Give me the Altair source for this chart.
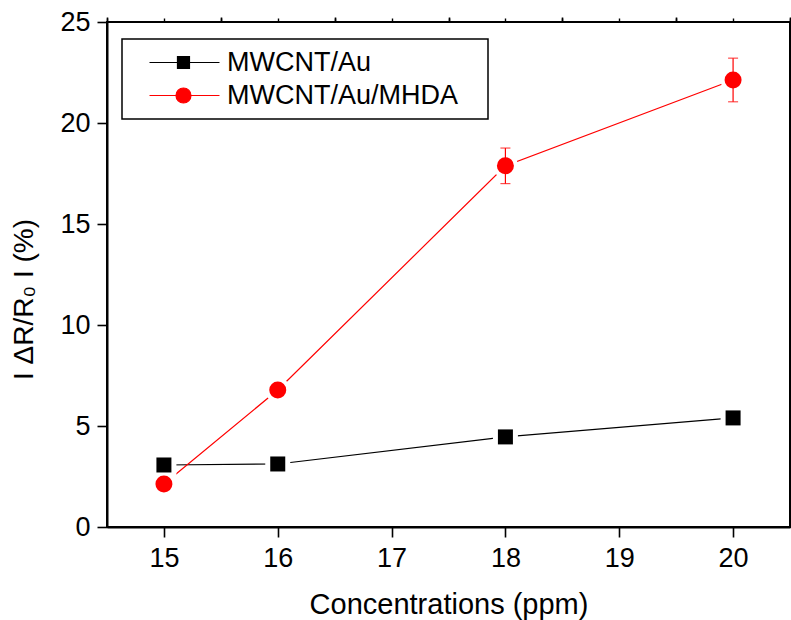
import altair as alt
import pandas as pd

# ---- data ----
conc = [15, 16, 18, 20]
au = [3.07, 3.12, 4.46, 5.40]
mhda = [2.13, 6.78, 17.88, 22.13]
mhda_err = [0.0, 0.0, 0.88, 1.08]
series = ["MWCNT/Au", "MWCNT/Au/MHDA"]
colors = ["#000000", "#FF0000"]

x_major = [15, 16, 17, 18, 19, 20]
x_minor = [14.5, 15.5, 16.5, 17.5, 18.5, 19.5, 20.5]
x_top = [14.5, 15, 15.5, 16, 16.5, 17, 17.5, 18, 18.5, 19, 19.5, 20, 20.5]
y_major = [0, 5, 10, 15, 20, 25]
y_minor = [2.5, 7.5, 12.5, 17.5, 22.5]

rows = []
for c, v in zip(conc, au):
    rows.append({"conc": c, "val": v, "err": 0.0, "series": series[0]})
for c, v, e in zip(conc, mhda, mhda_err):
    rows.append({"conc": c, "val": v, "err": e, "series": series[1]})
df = pd.DataFrame(rows)
df["lo"] = df["val"] - df["err"]
df["hi"] = df["val"] + df["err"]

FONT = "Liberation Sans"
xs = alt.Scale(domain=[14.5, 20.5], nice=False, zero=False)
ys = alt.Scale(domain=[0, 25], nice=False, zero=False)

ax_x_main = alt.Axis(values=x_major, tickSize=10, tickWidth=1.6, labelPadding=8,
                     labelFontSize=27, labelFont=FONT, labelColor="black",
                     title="Concentrations (ppm)", titleFontSize=29, titleFont=FONT,
                     titleFontWeight="normal", titleColor="black",
                     titleY=86, titleBaseline="alphabetic",
                     domainWidth=2, domainColor="black", tickColor="black", grid=False)
ax_x_minor = alt.Axis(values=x_minor, tickSize=5, tickWidth=1.6, labels=False,
                      domain=False, tickColor="black", grid=False, title=None)
ax_x_top = alt.Axis(orient="top", values=x_top, tickSize=4, tickWidth=1.4, labels=False,
                    domain=False, tickColor="black", grid=False, title=None)
ax_y_main = alt.Axis(values=y_major, tickSize=10, tickWidth=1.6, labelPadding=7,
                     labelFontSize=27, labelFont=FONT, labelColor="black",
                     title="I ΔR/R₀ I (%)", titleFontSize=28, titleFont=FONT,
                     titleFontWeight="normal", titleColor="black",
                     titleAngle=270, titleX=-75, titleY=277, titleAlign="center",
                     titleBaseline="alphabetic",
                     domainWidth=2, domainColor="black", tickColor="black", grid=False)
ax_y_minor = alt.Axis(values=y_minor, tickSize=5, tickWidth=1.6, labels=False,
                      domain=False, tickColor="black", grid=False, title=None)

base = alt.Chart(df)
d_au = base.transform_filter(alt.datum.series == series[0])
d_mh = base.transform_filter(alt.datum.series == series[1])

line_au = d_au.mark_line(strokeWidth=1.2, color=colors[0]).encode(
    x=alt.X("conc:Q", scale=xs, axis=ax_x_main),
    y=alt.Y("val:Q", scale=ys, axis=ax_y_main),
)
line_mh = d_mh.mark_line(strokeWidth=1.2, color=colors[1]).encode(
    x=alt.X("conc:Q", scale=xs, axis=ax_x_minor),
    y=alt.Y("val:Q", scale=ys, axis=ax_y_minor),
)
halo_au = d_au.mark_point(filled=True, shape="square", size=625, color="white", opacity=1).encode(
    x=alt.X("conc:Q", scale=xs, axis=ax_x_top),
    y=alt.Y("val:Q", scale=ys, axis=None),
)
halo_mh = d_mh.mark_point(filled=True, shape="circle", size=625, color="white", opacity=1).encode(
    x=alt.X("conc:Q", scale=xs, axis=None),
    y=alt.Y("val:Q", scale=ys, axis=None),
)
pt_au = d_au.mark_point(filled=True, shape="square", size=225, color=colors[0], opacity=1).encode(
    x=alt.X("conc:Q", scale=xs, axis=None),
    y=alt.Y("val:Q", scale=ys, axis=None),
)
pt_mh = d_mh.mark_point(filled=True, shape="circle", size=289, color=colors[1], opacity=1).encode(
    x=alt.X("conc:Q", scale=xs, axis=None),
    y=alt.Y("val:Q", scale=ys, axis=None),
)
d_err = d_mh.transform_filter(alt.datum.err > 0)
err_rule = d_err.mark_rule(color=colors[1], strokeWidth=1.2).encode(
    x=alt.X("conc:Q", scale=xs, axis=None),
    y=alt.Y("lo:Q", scale=ys, axis=None),
    y2="hi:Q",
)
err_lo = d_err.mark_tick(orient="horizontal", size=10, thickness=1.2, color=colors[1]).encode(
    x=alt.X("conc:Q", scale=xs, axis=None),
    y=alt.Y("lo:Q", scale=ys, axis=None),
)
err_hi = d_err.mark_tick(orient="horizontal", size=10, thickness=1.2, color=colors[1]).encode(
    x=alt.X("conc:Q", scale=xs, axis=None),
    y=alt.Y("hi:Q", scale=ys, axis=None),
)

# legend: line + marker glyphs as custom symbol paths
paths = [
    "M0.667,0H12.33M5.33,-1H7.33V1H5.33Z",
    "M0.667,0H12.33M5.08,0A1.25,1.25,0,1,1,7.58,0A1.25,1.25,0,1,1,5.08,0Z",
]
leg = alt.Legend(orient="none", legendX=15, legendY=17, title=None, padding=10,
                 strokeColor="black", fillColor="white", symbolSize=144,
                 symbolStrokeWidth=1.2, symbolOpacity=1, labelFontSize=27, labelFont=FONT,
                 labelColor="black", labelOffset=68, labelLimit=500, rowPadding=5,
                 labelExpr="datum.label + '\u2800'")
legend_layer = base.transform_filter("false").mark_point(filled=True).encode(
    fill=alt.Fill("series:N", scale=alt.Scale(domain=series, range=colors), legend=leg),
    stroke=alt.Stroke("series:N", scale=alt.Scale(domain=series, range=colors), legend=leg),
    shape=alt.Shape("series:N", scale=alt.Scale(domain=series, range=paths), legend=leg),
)

chart = alt.layer(
    line_au, line_mh, halo_au, halo_mh, pt_au, pt_mh, err_rule, err_lo, err_hi, legend_layer
).resolve_axis(x="independent", y="independent").properties(
    width=683, height=505,
    autosize=alt.AutoSizeParams(type="none"),
    padding={"left": 107, "top": 22, "right": 1, "bottom": 93},
    background="white",
).configure_view(stroke="black", strokeWidth=2).configure_legend(strokeWidth=1.5)

chart.save("out.html", embed_options={"renderer": "svg", "actions": False})
